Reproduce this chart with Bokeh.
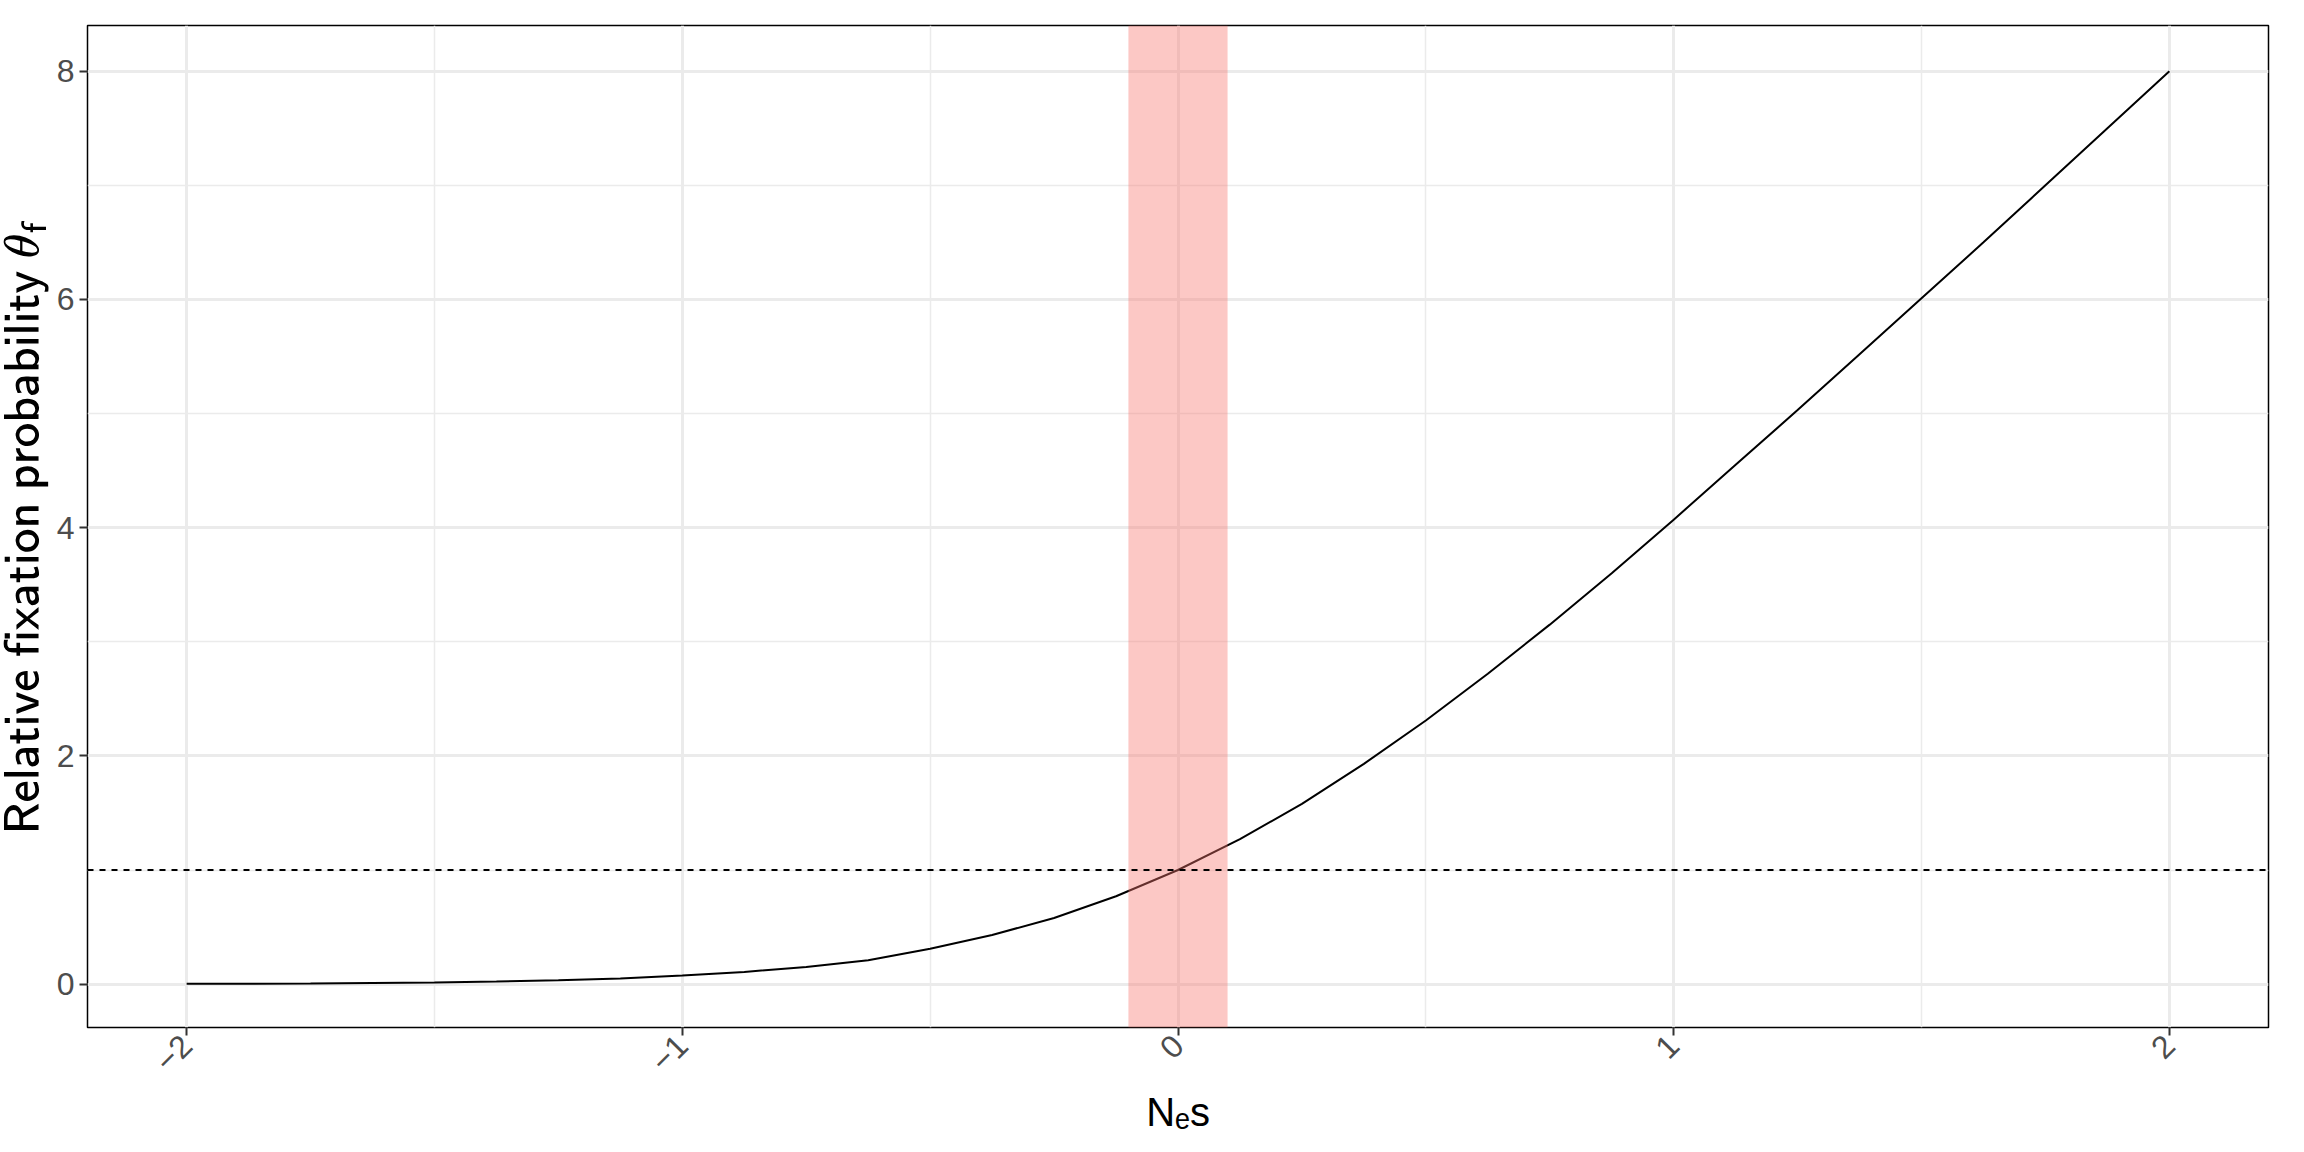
from bokeh.plotting import figure
from bokeh.models import Range1d, BoxAnnotation, Span, FixedTicker
from bokeh.embed import file_html
from bokeh.resources import INLINE
import math

# values
ns = [-2, -1.875, -1.75, -1.625, -1.5, -1.375, -1.25, -1.125, -1, -0.875, -0.75, -0.625,
      -0.5, -0.375, -0.25, -0.125, 0, 0.125, 0.25, 0.375, 0.5, 0.625, 0.75, 0.875,
      1, 1.125, 1.25, 1.375, 1.5, 1.625, 1.75, 1.875, 2]
theta = [0.003, 0.004, 0.006, 0.01, 0.015, 0.022, 0.034, 0.05, 0.075, 0.107, 0.15, 0.21,
         0.31, 0.43, 0.58, 0.77, 1.0, 1.27, 1.58, 1.93, 2.31, 2.72, 3.15, 3.60,
         4.07, 4.55, 5.03, 5.52, 6.01, 6.5, 7.0, 7.5, 8.0]
band = (-0.1, 0.1)
x_ticks = [-2, -1, 0, 1, 2]
y_ticks = [0, 2, 4, 6, 8]

p = figure(width=2288, height=1136, output_backend="svg", toolbar_location=None,
           x_range=Range1d(-2.2, 2.2), y_range=Range1d(-0.38, 8.4),
           x_axis_label="Nₑs",
           y_axis_label=r"$$\mathsf{Relative\ fixation\ probability}\ \theta_\mathsf{f}$$")
p.min_border_left = 30
p.min_border_top = 25
p.min_border_right = 20
p.outline_line_color = "black"
p.outline_line_width = 1.5
p.background_fill_color = "white"

p.xaxis.ticker = FixedTicker(ticks=x_ticks, minor_ticks=[-1.5, -0.5, 0.5, 1.5])
p.yaxis.ticker = FixedTicker(ticks=y_ticks, minor_ticks=[1, 3, 5, 7])
p.xgrid.grid_line_color = "#ebebeb"
p.ygrid.grid_line_color = "#ebebeb"
p.xgrid.grid_line_width = 3
p.ygrid.grid_line_width = 3
p.xgrid.minor_grid_line_color = "#ebebeb"
p.ygrid.minor_grid_line_color = "#ebebeb"
p.xgrid.minor_grid_line_width = 1.5
p.ygrid.minor_grid_line_width = 1.5

for ax in (p.xaxis, p.yaxis):
    ax.axis_line_color = None
    ax.major_tick_line_color = "#333333"
    ax.major_tick_line_width = 2
    ax.major_tick_in = 0
    ax.major_tick_out = 8
    ax.minor_tick_line_color = None
    ax.major_label_text_font = "Liberation Sans"
    ax.major_label_text_font_size = "32px"
    ax.major_label_text_color = "#4d4d4d"
    ax.axis_label_text_font = "Liberation Sans"
    ax.axis_label_text_font_size = "40px"
    ax.axis_label_text_font_style = "normal"
    ax.axis_label_text_color = "black"
p.xaxis.major_label_orientation = math.pi / 4

p.add_layout(BoxAnnotation(left=band[0], right=band[1], fill_color="#f8766d",
                           fill_alpha=0.4, line_color=None))
p.add_layout(Span(location=1, dimension="width", line_color="black",
                  line_dash="6 6", line_width=2))
p.line(ns, theta, line_color="black", line_width=2)

open("out.html", "w").write(file_html(p, INLINE))
